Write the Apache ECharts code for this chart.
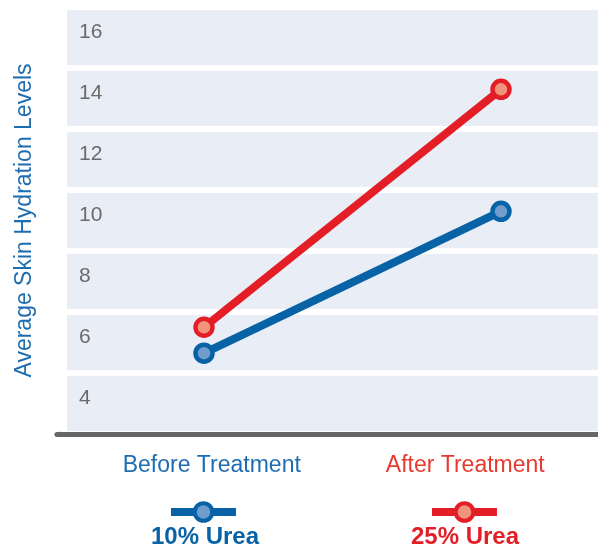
<!DOCTYPE html>
<html>
<head>
<meta charset="utf-8">
<script src="https://cdn.jsdelivr.net/npm/echarts@6/dist/echarts.min.js"></script>
<style>
html,body{margin:0;padding:0;background:#fff;}
#chart{width:598px;height:544px;}
</style>
</head>
<body>
<div id="chart"></div>
<script>
const categories = ['Before Treatment', 'After Treatment'];
const seriesNames = ['10% Urea', '25% Urea'];
const urea10 = [5.65, 10.3];
const urea25 = [6.5, 14.3];
const yMin = 3, yMax = 17, yStep = 2;

const FONT = '"Liberation Sans", Arial, Helvetica, sans-serif';
const BLUE = '#0862A6', BLUE_FILL = '#719DCC';
const RED = '#E31E26', RED_FILL = '#F2947B';
const BLUE_TXT = '#1E6DB0', RED_TXT = '#E8392F';

const chart = echarts.init(document.getElementById('chart'), null, {renderer: 'canvas'});

const option = {
  backgroundColor: '#ffffff',
  animation: false,
  grid: [
    {left: 67, right: 0, top: 7, bottom: 110},
    {left: 204, right: 97, top: 7, bottom: 110},
    {left: 57, right: 0, top: 7, bottom: 110}
  ],
  title: [
    {text: seriesNames[0], left: 205, top: 525, textAlign: 'center', padding: 0,
     textStyle: {color: BLUE, fontSize: 24, fontWeight: 'bold', fontFamily: FONT}},
    {text: seriesNames[1], left: 465, top: 525, textAlign: 'center', padding: 0,
     textStyle: {color: RED, fontSize: 24, fontWeight: 'bold', fontFamily: FONT}}
  ],
  legend: [
    {data: [seriesNames[0]], left: 167, top: 501, padding: 0, itemWidth: 65, itemHeight: 22,
     formatter: () => '', selectedMode: false, lineStyle: {width: 8}, itemStyle: {borderWidth: 4}},
    {data: [seriesNames[1]], left: 428, top: 501, padding: 0, itemWidth: 65, itemHeight: 22,
     formatter: () => '', selectedMode: false, lineStyle: {width: 8}, itemStyle: {borderWidth: 4}}
  ],
  xAxis: [
    {gridIndex: 0, type: 'category', data: categories, boundaryGap: true,
     axisLine: {show: false}, axisTick: {show: false}, splitLine: {show: false},
     axisLabel: {interval: 0, hideOverlap: false, margin: 20, fontFamily: FONT, fontSize: 23,
       formatter: (v, i) => (i === 0 ? '{a|' + v + '}' : '{b|' + v + '}'),
       rich: {
         a: {color: BLUE_TXT, fontSize: 23, fontFamily: FONT, padding: [0, 0, 0, 24]},
         b: {color: RED_TXT, fontSize: 23, fontFamily: FONT}
       }}},
    {gridIndex: 1, type: 'category', data: categories, boundaryGap: false, show: false},
    {gridIndex: 2, type: 'value', min: 0, max: 1,
     axisLine: {show: true, onZero: false, lineStyle: {color: '#666666', width: 5},
       symbol: ['triangle', 'none'], symbolSize: [5, 6]},
     axisTick: {show: false}, axisLabel: {show: false}, splitLine: {show: false}}
  ],
  yAxis: [
    {gridIndex: 0, type: 'value', min: yMin, max: yMax, interval: yStep,
     name: 'Average Skin Hydration Levels', nameLocation: 'middle', nameGap: 31,
     nameTextStyle: {color: BLUE_TXT, fontSize: 23, fontFamily: FONT},
     axisLine: {show: false}, axisTick: {show: false},
     axisLabel: {inside: true, margin: 12, verticalAlign: 'top', padding: [15, 0, 0, 0],
       fontSize: 21, fontFamily: FONT, color: '#6a6a6a',
       formatter: v => (v === yMin ? '' : String(v - 1))},
     splitLine: {show: true, lineStyle: {color: '#ffffff', width: 6}},
     splitArea: {show: true, areaStyle: {color: ['#E9EEF6']}}},
    {gridIndex: 1, type: 'value', min: yMin, max: yMax, interval: yStep, show: false},
    {gridIndex: 2, type: 'value', min: yMin, max: yMax, interval: yStep, show: false}
  ],
  series: [
    {name: seriesNames[0], type: 'line', xAxisIndex: 1, yAxisIndex: 1, data: urea10,
     symbol: 'circle', symbolSize: 17, z: 3,
     lineStyle: {width: 8, color: BLUE},
     itemStyle: {color: BLUE_FILL, borderColor: BLUE, borderWidth: 4.5}},
    {name: seriesNames[1], type: 'line', xAxisIndex: 1, yAxisIndex: 1, data: urea25,
     symbol: 'circle', symbolSize: 17, z: 3,
     lineStyle: {width: 8, color: RED},
     itemStyle: {color: RED_FILL, borderColor: RED, borderWidth: 4.5}}
  ]
};
chart.setOption(option);
</script>
</body>
</html>
